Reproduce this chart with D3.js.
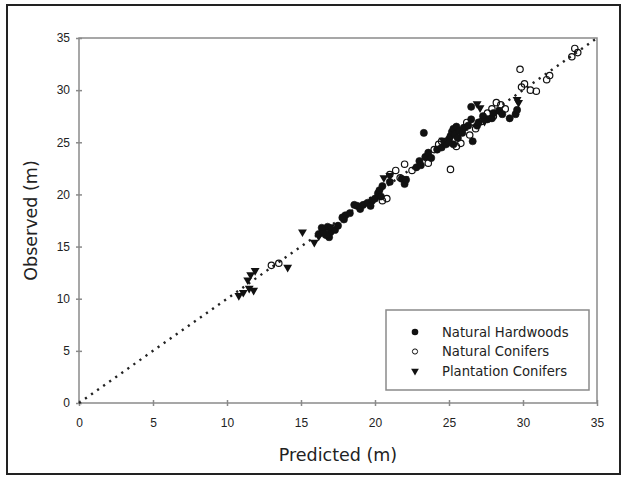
<!DOCTYPE html>
<html lang="en">
<head>
<meta charset="utf-8">
<script src="https://cdn.jsdelivr.net/npm/d3@7"></script>
<style>
  body {margin:0; background:#fff;}
  svg {font-family:"DejaVu Sans", Verdana, sans-serif;}
  .tick text {fill:#222; font-size:12px;}
  .axis path, .axis line {stroke:#8a8a8a; stroke-width:1.5;}
</style>
</head>
<body>
<script>

// predicted / observed pairs (m)
let hardwoodsPred = [16.2,16.5,16.8,17.0,16.9,17.3,17.5,16.4,17.9,18.0,17.8,18.3,16.7,
  18.8,19.0,19.2,19.5,18.6,19.8,20.0,20.2,20.3,20.5,19.7,20.4,
  21.0,21.8,22.0,22.1,22.8,23.0,23.1,23.4,23.6,23.3,23.8,24.2,24.5,
  24.8,25.0,25.1,25.2,25.3,25.4,25.5,25.6,25.7,25.9,26.0,26.3,26.6,26.5,26.5,26.9,27.0,25.3,25.0,
  27.6,27.9,28.0,28.4,29.1,29.5,29.6,28.6,27.3];
let hardwoodsObs = [16.2,16.5,16.9,16.4,15.9,16.6,17.0,16.8,17.6,18.0,17.8,18.2,16.1,
  18.9,18.6,19.0,19.2,19.0,19.4,19.6,20.1,20.4,20.8,18.9,19.8,
  21.2,21.5,21.0,21.4,22.6,23.2,22.8,23.6,24.0,25.9,23.5,24.3,24.5,
  24.8,25.3,25.6,26.0,26.3,25.8,26.5,25.4,26.1,25.9,26.4,26.6,25.1,27.2,28.4,26.6,26.9,24.8,25.0,
  27.2,27.3,27.8,28.0,27.3,27.7,28.1,27.7,27.5];

let conifersPred = [13.0,13.5,20.5,20.8,21.0,21.4,22.0,21.7,22.5,23.6,24.0,24.3,24.5,25.1,25.5,25.8,
  26.2,26.4,26.8,27.2,27.6,27.9,28.2,28.5,28.0,28.8,29.8,29.9,30.1,30.5,30.9,31.6,31.8,33.5,33.7,33.3];
let conifersObs = [13.2,13.4,19.4,19.6,21.9,22.3,22.9,21.6,22.3,23.0,24.3,24.8,25.1,22.4,24.6,24.9,
  26.9,25.7,26.3,27.0,27.8,28.2,28.8,28.6,27.5,28.2,32.0,30.3,30.6,30.0,29.9,31.0,31.4,34.0,33.6,33.2];

let plantationPred = [10.8,11.1,11.4,11.5,11.8,11.9,11.6,14.1,15.1,15.9,16.2,16.5,17.0,20.6,21.0,22.0,
  26.9,27.1,29.7,29.6,27.4,24.6];
let plantationObs = [10.3,10.6,11.8,11.0,10.8,12.7,12.3,13.0,16.4,15.4,16.0,16.3,16.9,21.6,21.8,21.5,
  28.7,28.3,28.8,29.1,27.0,25.2];

let ticks = [0,5,10,15,20,25,30,35];
let seriesNames = ["Natural Hardwoods","Natural Conifers","Plantation Conifers"];

let W = 627, H = 477;
let svg = d3.select("body").append("svg").attr("width", W).attr("height", H);

// outer frame
svg.append("rect")
  .attr("x", 7).attr("y", 5).attr("width", 613).attr("height", 469)
  .attr("fill", "none").attr("stroke", "#222").attr("stroke-width", 2);

let x = d3.scaleLinear().domain([0,35]).range([79,597]);
let y = d3.scaleLinear().domain([0,35]).range([403,38]);

// plot box
svg.append("rect")
  .attr("x", x(0)).attr("y", y(35))
  .attr("width", x(35)-x(0)).attr("height", y(0)-y(35))
  .attr("fill", "none").attr("stroke", "#8a8a8a").attr("stroke-width", 1.5);

let xAxis = svg.append("g").attr("class","axis")
  .attr("transform", "translate(0," + y(0) + ")")
  .call(d3.axisBottom(x).tickValues(ticks).tickSize(3).tickPadding(12));
xAxis.selectAll(".tick line").attr("y1", -3);

let yAxis = svg.append("g").attr("class","axis")
  .attr("transform", "translate(" + x(0) + ",0)")
  .call(d3.axisLeft(y).tickValues(ticks).tickSize(3).tickPadding(6));
yAxis.selectAll(".tick line").attr("x1", 3);
svg.selectAll(".axis .domain").remove();

// 1:1 line
svg.append("line")
  .attr("x1", x(0)).attr("y1", y(0)).attr("x2", x(35)).attr("y2", y(35))
  .attr("stroke", "#222").attr("stroke-width", 2.4)
  .attr("stroke-dasharray", "2.2,5.2");

let tri = d3.symbol().type(d3.symbolTriangle).size(34);

function drawCircles(px, py, filled) {
  svg.append("g").selectAll("circle")
    .data(px.map((d,i)=>[d, py[i]]))
    .enter().append("circle")
    .attr("cx", d=>x(d[0])).attr("cy", d=>y(d[1]))
    .attr("r", filled ? 3.6 : 3.2)
    .attr("fill", filled ? "#111" : "none")
    .attr("stroke", "#111").attr("stroke-width", filled ? 0.6 : 1.2);
}
drawCircles(conifersPred, conifersObs, false);
drawCircles(hardwoodsPred, hardwoodsObs, true);

svg.append("g").selectAll("path")
  .data(plantationPred.map((d,i)=>[d, plantationObs[i]]))
  .enter().append("path")
  .attr("d", tri)
  .attr("transform", d=>"translate(" + x(d[0]) + "," + y(d[1]) + ") rotate(180)")
  .attr("fill", "#111");

// legend
let legend = svg.append("g").attr("transform", "translate(386,310)");
legend.append("rect")
  .attr("width", 203).attr("height", 80)
  .attr("fill", "#fff").attr("stroke", "#8a8a8a").attr("stroke-width", 1.5);
let rows = legend.selectAll("g.row").data(seriesNames).enter()
  .append("g").attr("class","row")
  .attr("transform", (d,i)=>"translate(0," + (22 + i*19.5) + ")");
rows.append("text")
  .attr("x", 56).attr("y", 4.5)
  .attr("font-size", 13.2).attr("fill", "#222")
  .text(d=>d);
rows.filter((d,i)=>i==0).append("circle").attr("cx",29).attr("r",3.3).attr("fill","#111");
rows.filter((d,i)=>i==1).append("circle").attr("cx",29).attr("r",2.6)
  .attr("fill","none").attr("stroke","#111").attr("stroke-width",1);
rows.filter((d,i)=>i==2).append("path").attr("d", d3.symbol().type(d3.symbolTriangle).size(26))
  .attr("transform","translate(29,0) rotate(180)").attr("fill","#111");

// axis titles
svg.append("text")
  .attr("x", (x(0)+x(35))/2).attr("y", 461)
  .attr("text-anchor","middle").attr("font-size", 17.5).attr("fill","#222")
  .text("Predicted (m)");
svg.append("text")
  .attr("transform", "translate(37," + ((y(0)+y(35))/2) + ") rotate(-90)")
  .attr("text-anchor","middle").attr("font-size", 17.5).attr("fill","#222")
  .text("Observed (m)");

</script>
</body>
</html>
